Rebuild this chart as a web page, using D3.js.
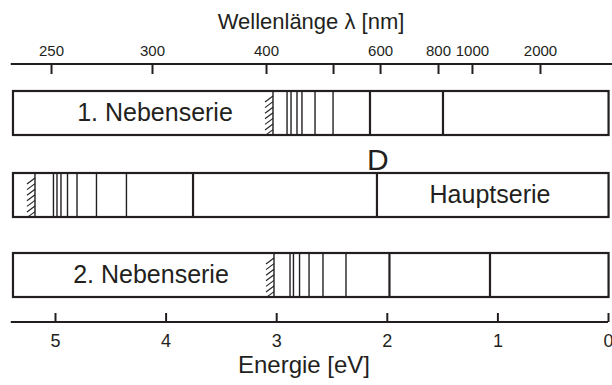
<!DOCTYPE html>
<meta charset="utf-8">
<script src="https://d3js.org/d3.v7.min.js"></script>
<style>
  body { margin: 0; background: #fff; }
  text { font-family: "Liberation Sans", Arial, Helvetica, sans-serif; fill: #231f20; }
</style>
<body>
<div id="chart"></div>
<script>
// line positions in eV
var nebenserie1 = [2.902, 2.866, 2.812, 2.767, 2.649, 2.486, 2.152, 1.492];
var nebenserie1Limit = 3.029;
var hauptserie = [5.014, 4.982, 4.946, 4.887, 4.801, 4.625, 4.354, 3.752, 2.089];
var hauptserieLimit = 5.181;
var nebenserie2 = [2.875, 2.844, 2.789, 2.703, 2.577, 2.369, 1.976, 1.067];
var nebenserie2Limit = 3.020;

// axes
var energyTicks = [5, 4, 3, 2, 1, 0];
var waveLabels = ["250", "300", "400", "", "600", "800", "1000", "2000"];
var waveTickE = [5.036, 4.123, 3.092, 2.486, 2.061, 1.537, 1.230, 0.615];

var width = 612, height = 385;

var svg = d3.select("#chart")
  .append("svg")
    .attr("width", width)
    .attr("height", height);

var x = d3.scaleLinear()
  .domain([5, 0])
  .range([55, 608]);

var ink = "#231f20";

// top axis (wavelength)
svg.append("line")
  .attr("x1", x(5.4)).attr("x2", 612)
  .attr("y1", 64).attr("y2", 64)
  .attr("stroke", ink).attr("stroke-width", 2);

var topAxis = svg.append("g").attr("transform", "translate(0,64)")
  .call(d3.axisTop(x).tickValues(waveTickE).tickSize(-10).tickPadding(8)
    .tickFormat(function(d, i) { return waveLabels[i]; }));
topAxis.select(".domain").remove();
topAxis.selectAll(".tick line").attr("stroke", ink).attr("stroke-width", 2);
topAxis.selectAll(".tick text").style("font-size", "15px").attr("fill", ink)
  .style("font-family", "'Liberation Sans', Arial, sans-serif");

svg.append("text")
  .attr("x", 311).attr("y", 29)
  .attr("text-anchor", "middle")
  .style("font-size", "22px")
  .text("Wellenlänge λ [nm]");

// bottom axis (energy)
svg.append("line")
  .attr("x1", x(5.4)).attr("x2", x(0))
  .attr("y1", 322).attr("y2", 322)
  .attr("stroke", ink).attr("stroke-width", 2);

var botAxis = svg.append("g").attr("transform", "translate(0,322)")
  .call(d3.axisBottom(x).tickValues(energyTicks).tickSize(-9).tickPadding(12)
    .tickFormat(d3.format("d")));
botAxis.select(".domain").remove();
botAxis.selectAll(".tick line").attr("stroke", ink).attr("stroke-width", 2);
botAxis.selectAll(".tick text").style("font-size", "18px").attr("fill", ink)
  .style("font-family", "'Liberation Sans', Arial, sans-serif");

svg.append("text")
  .attr("x", 304).attr("y", 373)
  .attr("text-anchor", "middle")
  .style("font-size", "24px")
  .text("Energie [eV]");

// series boxes
var series = [
  { name: "1. Nebenserie", lines: nebenserie1, limit: nebenserie1Limit, y: 91, lx: 155 },
  { name: "Hauptserie", lines: hauptserie, limit: hauptserieLimit, y: 173, lx: 490 },
  { name: "2. Nebenserie", lines: nebenserie2, limit: nebenserie2Limit, y: 253, lx: 151 }
];
var boxH = 44;

series.forEach(function(s) {
  var g = svg.append("g");
  var n = s.lines.length;

  g.selectAll("line.spec")
    .data(s.lines)
    .enter().append("line")
      .attr("class", "spec")
      .attr("x1", function(d) { return x(d); })
      .attr("x2", function(d) { return x(d); })
      .attr("y1", s.y).attr("y2", s.y + boxH)
      .attr("stroke", ink)
      .attr("stroke-width", function(d, i) { return i >= n - 2 ? 2.2 : 1.4; });

  // series limit with hatching
  var xl = x(s.limit);
  g.append("line")
    .attr("x1", xl).attr("x2", xl)
    .attr("y1", s.y).attr("y2", s.y + boxH)
    .attr("stroke", ink).attr("stroke-width", 1.4);
  d3.range(7).forEach(function(i) {
    var y0 = s.y + 11 + i * 5.6;
    g.append("line")
      .attr("x1", xl - 8).attr("y1", y0)
      .attr("x2", xl).attr("y2", y0 - 6)
      .attr("stroke", ink).attr("stroke-width", 1.1);
  });

  g.append("rect")
    .attr("x", x(5.38)).attr("y", s.y)
    .attr("width", x(-0.005) - x(5.38)).attr("height", boxH)
    .attr("fill", "none").attr("stroke", ink).attr("stroke-width", 2.2);

  g.append("text")
    .attr("x", s.lx).attr("y", s.y + 30)
    .attr("text-anchor", "middle")
    .style("font-size", "25px")
    .text(s.name);
});

// D line label
svg.append("text")
  .attr("x", x(hauptserie[hauptserie.length - 1]) + 1).attr("y", 170)
  .attr("text-anchor", "middle")
  .style("font-size", "30px")
  .text("D");
</script>
</body>
